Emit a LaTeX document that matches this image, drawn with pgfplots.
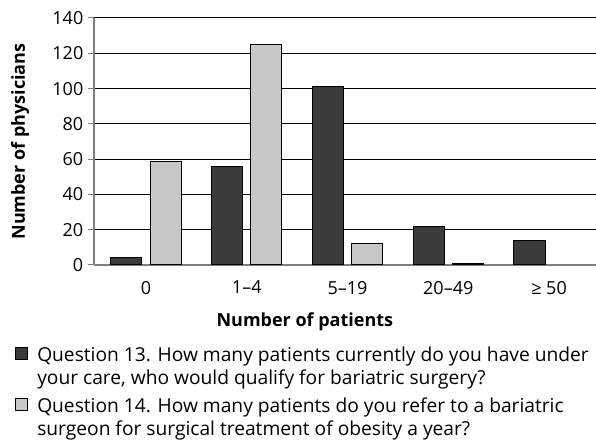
\documentclass[border=0pt]{standalone}
\usepackage{pgfplots}
\pgfplotsset{compat=1.18}
\usepackage{fontspec}
\setmainfont{Open Sans}
\definecolor{darkbar}{HTML}{3A3A3A}
\definecolor{lightbar}{HTML}{C8C8C8}
\definecolor{axisgray}{HTML}{808080}
% struts for the legend rows
\newcommand{\rowA}{\rule[-4.9pt]{0pt}{16.9pt}}
\newcommand{\rowB}{\rule[-4.9pt]{0pt}{20.2pt}}

\begin{document}
\begin{tikzpicture}
% picture frame: 596 x 441 px at 0.75pt per px
\path[use as bounding box] (-70.5pt,-132pt) rectangle (376.5pt,198.75pt);
\begin{axis}[
    at={(0,0)}, anchor=south west,
    width=376.5pt, height=185.25pt, scale only axis,
    font=\fontsize{13.5}{16}\selectfont,
    /pgf/number format/assume math mode=true,
    xmin=-0.516, xmax=4.466,
    ymin=0, ymax=140,
    ytick={0,20,...,140},
    xtick={0,1,2,3,4},
    xticklabels={0,1–4,5–19,20–49,≥ 50},
    axis x line=bottom, axis y line=left,
    axis line style={draw=axisgray, line width=0.9pt, -},
    xtick style={draw=none},
    ytick style={draw=axisgray, line width=0.75pt},
    tick align=outside, major tick length=4.5pt,
    ymajorgrids, grid style={black, line width=0.75pt},
    xlabel={\bfseries Number of patients},
    ylabel={\bfseries Number of physicians},
    xlabel style={at={(axis description cs:0.42,-0.23)}, anchor=center},
    ylabel style={at={(axis description cs:-0.147,0.5)}, anchor=center},
    xticklabel style={yshift=-4pt},
    legend style={
        at={(axis description cs:-0.157,-0.325)}, anchor=north west,
        draw=none, fill=none, inner sep=0pt, row sep=4pt,
        cells={anchor=base west},
        nodes={inner sep=0pt},
        column sep=6.75pt,
        font=\fontsize{14.4}{17}\selectfont,
    },
    legend image code/.code={%
        \draw[#1, draw=black, line width=0.6pt] (0pt,1.5pt) rectangle (9pt,10.5pt);
    },
]
\addplot[ybar, bar width=0.308, bar shift=-0.194, fill=darkbar, draw=black, line width=0.75pt]
    coordinates {(0,4) (1,56) (2,101) (3,22) (4,14)};
\addlegendentry{\rowA Question 13. How many patients currently do you have under}
\addlegendimage{empty legend}
\addlegendentry{\rowA your care, who would qualify for bariatric surgery?}
\addplot[ybar, bar width=0.308, bar shift=0.194, fill=lightbar, draw=black, line width=0.75pt]
    coordinates {(0,58.6) (1,125) (2,12) (3,1)};
\addlegendentry{\rowB Question 14. How many patients do you refer to a bariatric}
\addlegendimage{empty legend}
\addlegendentry{\rowA surgeon for surgical treatment of obesity a year?}
\end{axis}
\end{tikzpicture}
\end{document}
